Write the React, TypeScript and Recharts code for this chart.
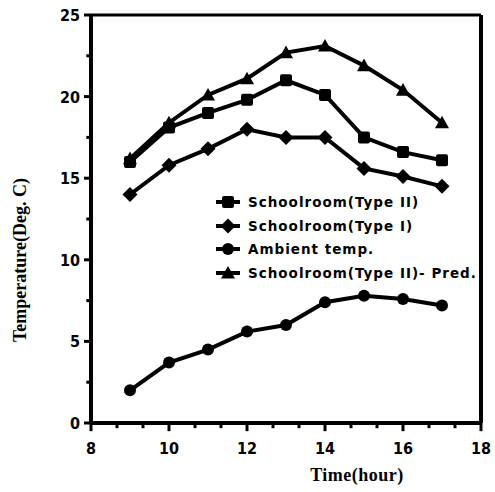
import React from 'react';
import { LineChart, Line, XAxis, YAxis, ReferenceLine } from 'recharts';

const hours = [9, 10, 11, 12, 13, 14, 15, 16, 17];
const typeII = [16.0, 18.1, 19.0, 19.8, 21.0, 20.1, 17.5, 16.6, 16.1];
const typeI = [14.0, 15.8, 16.8, 18.0, 17.5, 17.5, 15.6, 15.1, 14.5];
const ambient = [2.0, 3.7, 4.5, 5.6, 6.0, 7.4, 7.8, 7.6, 7.2];
const typeIIPred = [16.2, 18.4, 20.1, 21.1, 22.7, 23.1, 21.9, 20.4, 18.4];

const seriesNames = [
    'Schoolroom(Type II)',
    'Schoolroom(Type I)',
    'Ambient temp.',
    'Schoolroom(Type II)- Pred.',
];
const seriesKeys = ['typeII', 'typeI', 'ambient', 'pred'];
const seriesShapes = ['square', 'diamond', 'circle', 'triangle'];

const xTickLabels = [8, 10, 12, 14, 16, 18];
const xMinorTicks = [8.667, 9.333, 10.667, 11.333, 12.667, 13.333, 14.667, 15.333, 16.667, 17.333];
const yTickLabels = [0, 5, 10, 15, 20, 25];
const yMinorTicks = [2.5, 7.5, 12.5, 17.5, 22.5];

const data = hours.map((h, i) => ({
    hour: h,
    typeII: typeII[i],
    typeI: typeI[i],
    ambient: ambient[i],
    pred: typeIIPred[i],
}));

const tickFont = "'Liberation Sans Narrow', 'DejaVu Sans Condensed', Arial, sans-serif";
const labelFont = "'Liberation Serif', 'DejaVu Serif', serif";
const legendFont = "'DejaVu Sans', Arial, sans-serif";

const Marker = ({ shape, cx, cy, s = 6 }: { shape: string; cx: number; cy: number; s?: number }) => {
    if (shape === 'square') {
        return <rect x={cx - s} y={cy - s} width={s * 2} height={s * 2} rx={2} fill="#000" />;
    }
    if (shape === 'diamond') {
        const d = s + 1.5;
        return <polygon points={`${cx},${cy - d} ${cx + d},${cy} ${cx},${cy + d} ${cx - d},${cy}`} fill="#000" />;
    }
    if (shape === 'circle') {
        return <circle cx={cx} cy={cy} r={s} fill="#000" />;
    }
    const t = s + 1;
    return <polygon points={`${cx},${cy - t} ${cx + t},${cy + t * 0.8} ${cx - t},${cy + t * 0.8}`} fill="#000" />;
};

const XTick = (props: any) => {
    const { x, y, payload } = props;
    return (
        <text x={x} y={y + 31} textAnchor="middle" fontFamily={tickFont} fontWeight="bold" fontSize={16} fill="#000">
            {payload.value}
        </text>
    );
};

const YTick = (props: any) => {
    const { x, y, payload } = props;
    return (
        <text x={x - 11} y={y + 6} textAnchor="end" fontFamily={tickFont} fontWeight="bold" fontSize={16} fill="#000">
            {payload.value}
        </text>
    );
};

// tick marks as short segments in data units, hanging outside the plot
const tickMark = (key: string, a: { x: number; y: number }, b: { x: number; y: number }) => (
    <ReferenceLine key={key} segment={[a, b]} stroke="#000" strokeWidth={3} ifOverflow="visible" />
);

const ChartLegend = () => (
    <div style={{ position: 'absolute', left: 214, top: 190 }}>
        {seriesNames.map((name, i) => (
            <div key={name} style={{ display: 'flex', alignItems: 'center', height: 23.7 }}>
                <svg width={28} height={20}>
                    <line x1={2} y1={10} x2={26} y2={10} stroke="#000" strokeWidth={4} />
                    <Marker shape={seriesShapes[i]} cx={14} cy={10} s={6} />
                </svg>
                <span
                    style={{
                        marginLeft: 6,
                        fontFamily: legendFont,
                        fontWeight: 'bold',
                        fontSize: 13.5,
                        letterSpacing: 1,
                        color: '#000',
                        whiteSpace: 'nowrap',
                    }}
                >
                    {name}
                </span>
            </div>
        ))}
    </div>
);

export default function App() {
    return (
        <div style={{ position: 'absolute', left: 0, top: 0, width: 495, height: 492, background: '#fff' }}>
            <LineChart width={495} height={492} data={data} margin={{ top: 15, right: 14, bottom: 39, left: 31 }}>
                <XAxis
                    dataKey="hour"
                    type="number"
                    domain={[8, 18]}
                    ticks={xTickLabels}
                    interval={0}
                    tickSize={0}
                    tickMargin={0}
                    tickLine={false}
                    tick={<XTick />}
                    height={30}
                    axisLine={{ stroke: '#000', strokeWidth: 4 }}
                    label={{
                        content: () => (
                            <text x={357} y={481} textAnchor="middle" fontFamily={labelFont} fontWeight="bold" fontSize={18} letterSpacing={0.5} fill="#000">
                                Time(hour)
                            </text>
                        ),
                    }}
                />
                <YAxis
                    type="number"
                    domain={[0, 25]}
                    ticks={yTickLabels}
                    interval={0}
                    tickSize={0}
                    tickMargin={0}
                    tickLine={false}
                    tick={<YTick />}
                    width={60}
                    axisLine={{ stroke: '#000', strokeWidth: 4 }}
                    label={{
                        content: () => (
                            <text
                                x={20}
                                y={260}
                                transform="rotate(-90 20 260)"
                                dy={6}
                                textAnchor="middle"
                                fontFamily={labelFont}
                                fontWeight="bold"
                                fontSize={18}
                                fill="#000"
                            >
                                Temperature(Deg. C)
                            </text>
                        ),
                    }}
                />
                <ReferenceLine y={25} stroke="#000" strokeWidth={3} />
                <ReferenceLine x={18} stroke="#000" strokeWidth={4} />
                {xTickLabels.map((v) => tickMark(`xM${v}`, { x: v, y: 0 }, { x: v, y: -0.5 }))}
                {xMinorTicks.map((v) => tickMark(`xm${v}`, { x: v, y: 0 }, { x: v, y: -0.32 }))}
                {yTickLabels.map((v) => tickMark(`yM${v}`, { x: 8, y: v }, { x: 7.82, y: v }))}
                {yMinorTicks.map((v) => tickMark(`ym${v}`, { x: 8, y: v }, { x: 7.88, y: v }))}
                {seriesKeys.map((k, i) => (
                    <Line
                        key={k}
                        dataKey={k}
                        name={seriesNames[i]}
                        stroke="#000"
                        strokeWidth={4}
                        isAnimationActive={false}
                        dot={(p: any) => <Marker key={`${k}-${p.index}`} shape={seriesShapes[i]} cx={p.cx} cy={p.cy} s={6} />}
                        activeDot={false}
                    />
                ))}
            </LineChart>
            <ChartLegend />
        </div>
    );
}
